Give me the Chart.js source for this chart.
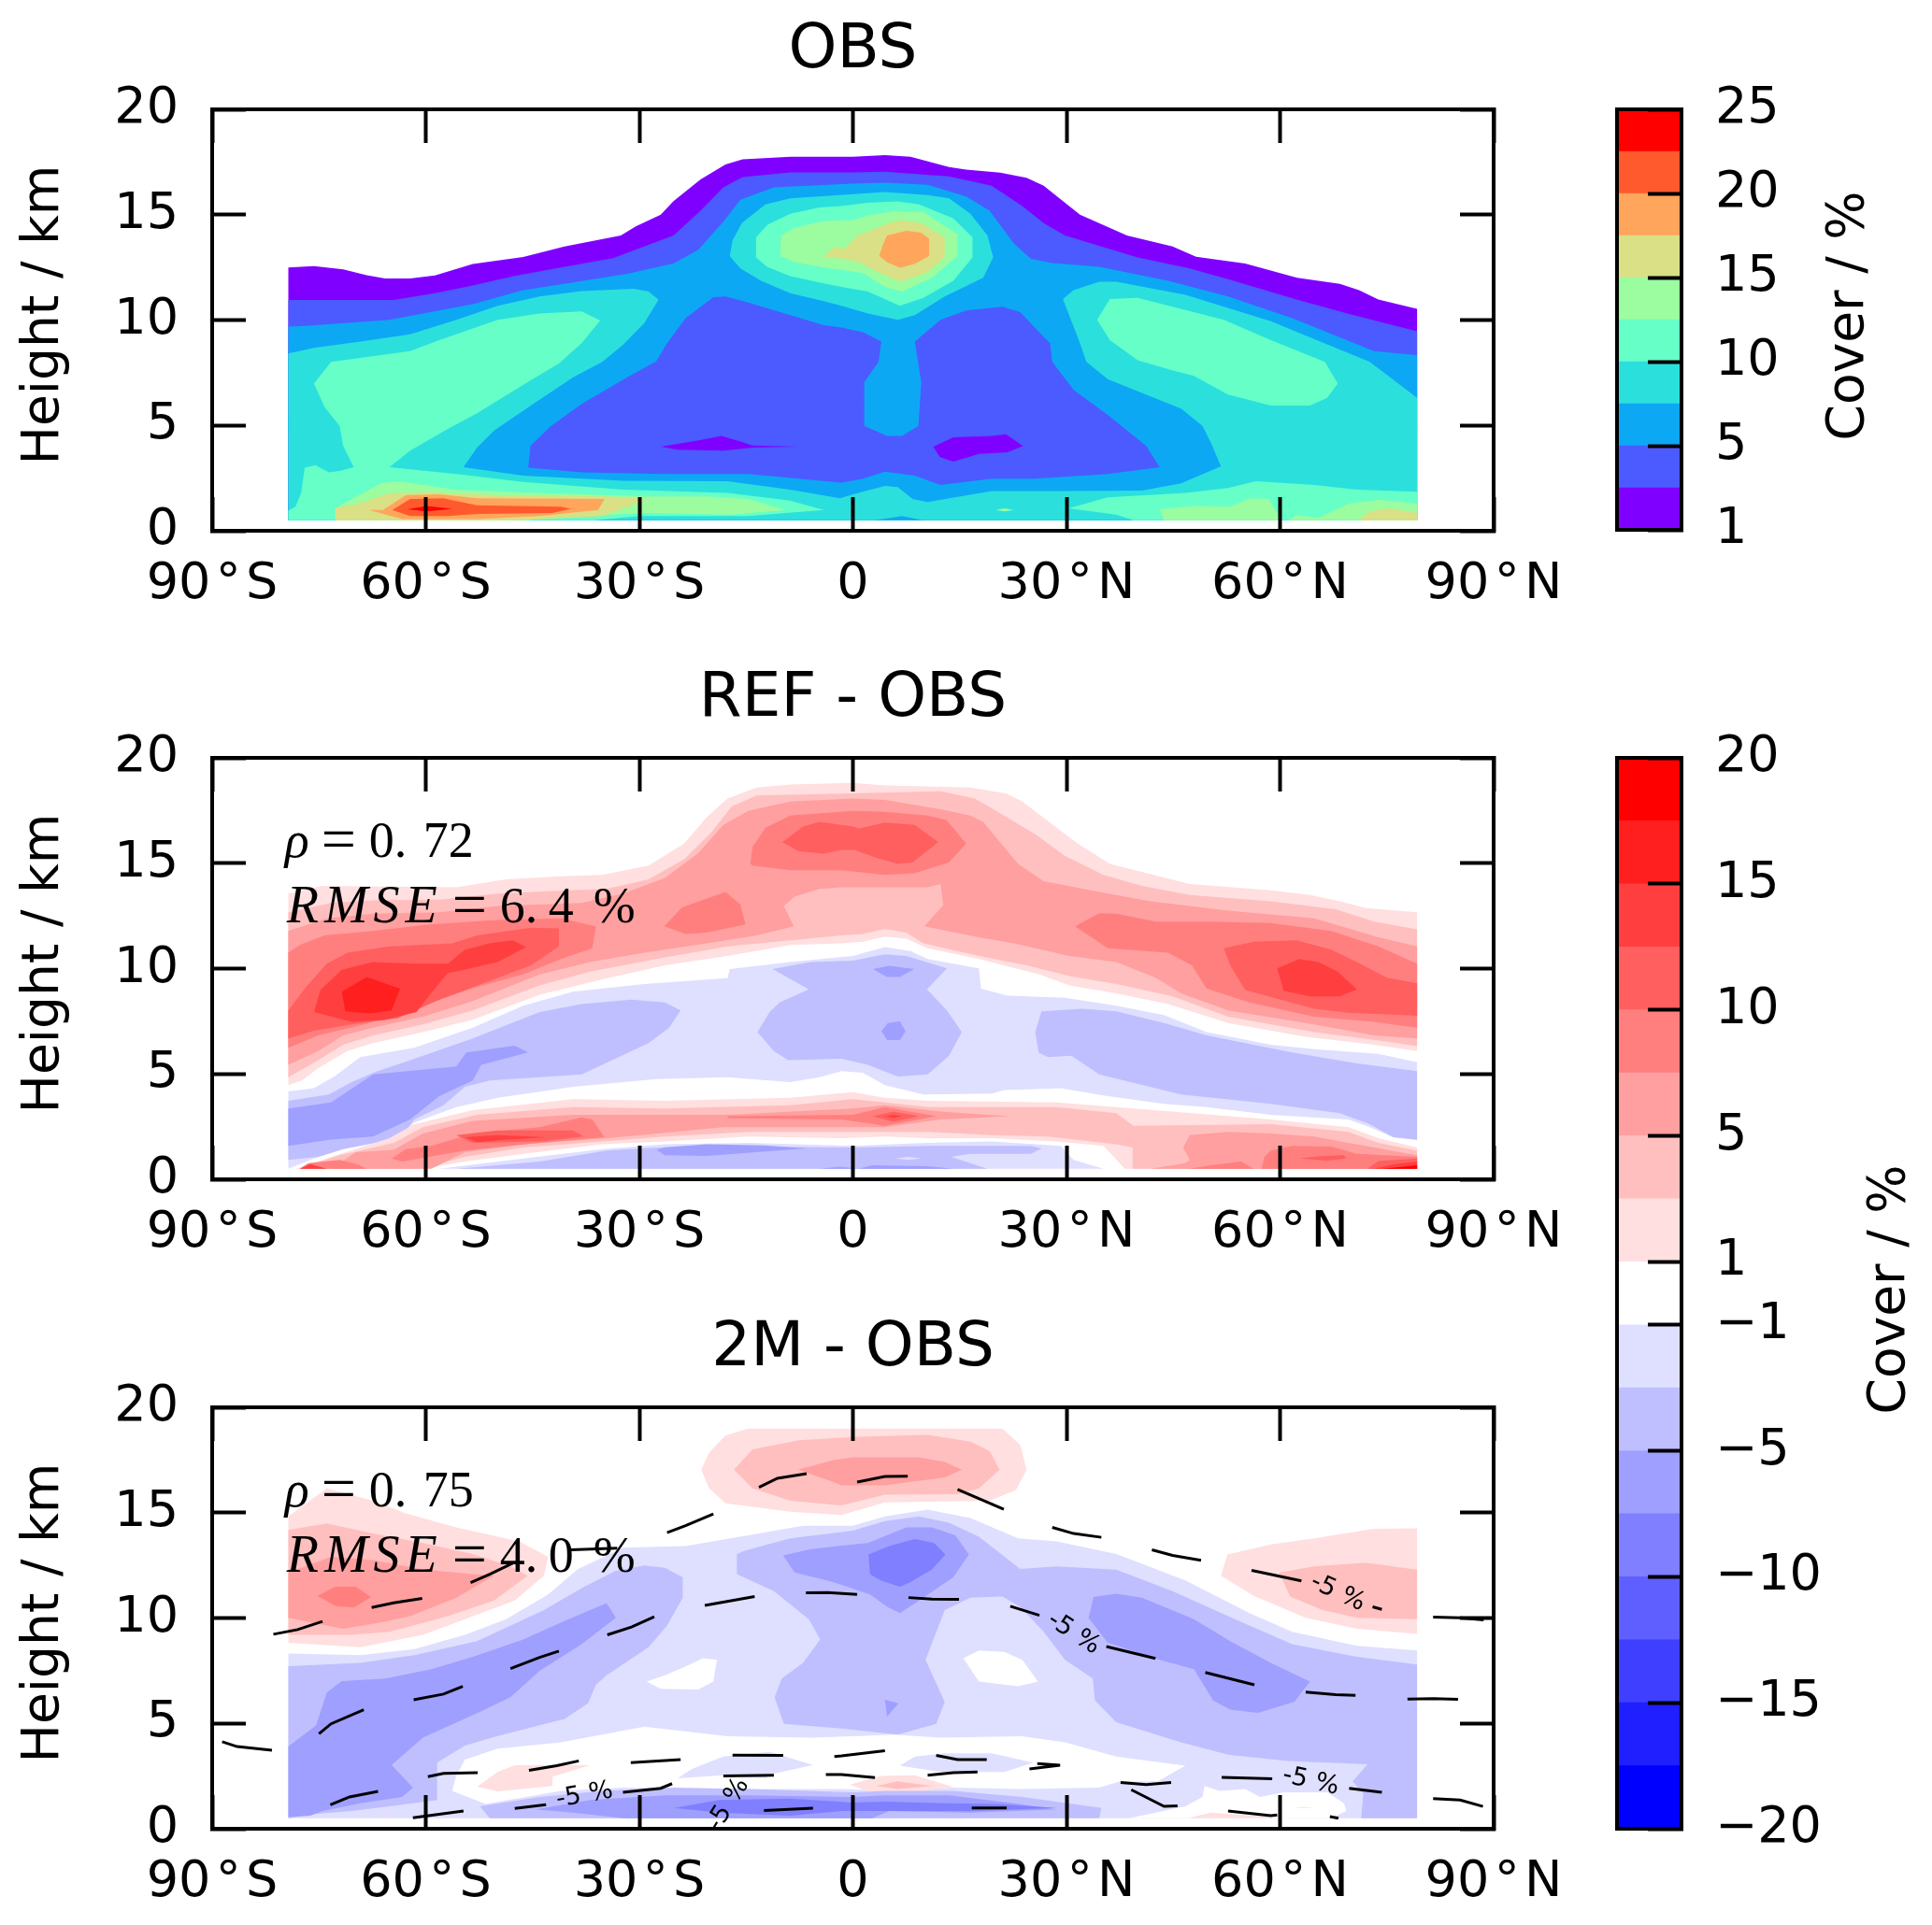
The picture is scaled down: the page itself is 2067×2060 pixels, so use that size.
<!DOCTYPE html>
<html>
<head>
<meta charset="utf-8">
<script src="https://cdn.jsdelivr.net/npm/chart.js@4/dist/chart.umd.js"></script>
<style>
  body { margin: 0; background: #fff; }
  canvas { position: absolute; }
</style>
</head>
<body>
<canvas id="panelObs" width="1698" height="658" style="left:0;top:0"></canvas>
<canvas id="panelRef" width="1698" height="658" style="left:0;top:694px"></canvas>
<canvas id="panel2m" width="1698" height="658" style="left:0;top:1389px"></canvas>
<canvas id="barObs" width="367" height="560" style="left:1700px;top:47px"></canvas>
<canvas id="barDiff" width="367" height="1256" style="left:1700px;top:741px"></canvas>
<script>
// tick labels
const latTicks = [-90, -60, -30, 0, 30, 60, 90];
const latLabels = ['90\u200a°\u200aS', '60\u200a°\u200aS', '30\u200a°\u200aS', '0', '30\u200a°\u200aN', '60\u200a°\u200aN', '90\u200a°\u200aN'];

// colour bars
const obsBarColors = ['#8000ff', '#4b5bff', '#0da8f4', '#2be0dc', '#66ffc8', '#9cfca0', '#d9e085', '#ffa55c', '#ff5a2e', '#ff0000'];
const obsBarTicks = [0, 2, 4, 6, 8, 10];
const obsBarLabels = ['1', '5', '10', '15', '20', '25'];
const diffBarColors = ['#0000ff', '#1f1fff', '#3f3fff', '#5f5fff', '#7f7fff', '#9f9fff', '#bfbfff', '#dfdfff', '#ffffff',
  '#ffdfdf', '#ffbfbf', '#ff9f9f', '#ff7f7f', '#ff5f5f', '#ff3f3f', '#ff1f1f', '#ff0000'];
const diffBarTicks = [0, 2, 4, 6, 8, 9, 11, 13, 15, 17];
const diffBarLabels = ['\u221220', '\u221215', '\u221210', '\u22125', '\u22121', '1', '5', '10', '15', '20'];

// OBS contours, flat lat,height pairs
const obsPurple = [-79.3,12.5,-75.7,12.56,-71.6,12.41,-68.3,12.13,-65.7,11.97,-62.2,11.97,-58.7,12.12,-53.4,12.66,-46.3,12.99,-40.5,13.49,-32.6,14.01,-30.5,14.45,-27,15,-25.2,15.64,-21.4,16.67,-17.9,17.38,-15.5,17.63,-8.8,17.75,0,17.75,4.5,17.83,8.1,17.75,13.5,17.26,15.9,17.14,20.7,17,24.4,16.75,26.8,16.38,31.9,15,38.5,14.01,44.9,13.49,48.2,13,55.1,12.68,62.4,12.01,68.4,11.72,71.1,11.42,73.8,10.98,79.25,10.53,79.25,0.5,-79.3,0.5];
const obsBlue = [-79.3,10.95,-64.5,10.95,-58.7,11.27,-53.4,11.64,-47.5,12.09,-40.5,12.53,-33.7,12.94,-25.2,14.01,-21.4,15.19,-18.2,16.3,-15.5,16.79,-8.8,17.01,0,17.01,4.5,17.04,13.5,16.82,19.5,16.38,23.8,15.41,26.8,14.6,29.8,14.01,40,12.97,47.3,12.45,52.7,11.94,62.3,10.98,70.2,10.24,79.25,9.47,79.25,0.5,-79.3,0.5];
const obsSky = [-79.3,9.69,-76.8,9.72,-65.1,10.01,-53.4,10.75,-46.3,11.42,-39.3,11.79,-31.7,12.19,-25.2,12.68,-21.7,13.34,-18.2,14.67,-15.8,15.71,-11.1,16.3,0,16.48,4.5,16.52,10.5,16.42,15.9,15.86,19.2,15.19,22.6,13.64,25,12.9,28,12.7,34.6,12.53,44.3,11.86,52.7,11.12,61.7,10.09,73.2,8.53,79.25,8.34,79.25,0.5,-79.3,0.5];
const obsCyanMain = [-79.3,8.42,-75.7,8.68,-69.2,8.98,-62.2,9.32,-55.7,10.01,-49.9,10.68,-44,11.12,-38.1,11.38,-30.8,11.49,-28.7,11.35,-27.3,10.97,-29.3,9.86,-32.3,8.83,-35.2,8.02,-39.3,7.28,-45.2,5.95,-50.4,4.76,-52.8,3.95,-54.7,3.02,-46.3,2.62,-32.3,2.37,-17.6,2.35,-8.8,1.95,-1.8,1.54,0,1.73,4.5,2.13,6.3,2.07,8.4,1.51,10.5,1.36,19.5,1.88,29.8,1.88,40.6,1.91,46.1,2.25,51.7,3.06,50.3,4.17,49.1,4.98,46.1,5.8,40.6,6.54,35.8,7.2,32.8,8.02,31.9,8.9,29.5,11,31,11.42,34.6,11.82,37,11.82,46.7,11.2,58.7,9.94,72.6,8.02,79.25,6.31,79.25,0.5,-79.3,0.5];
const obsNotch = [-79.3,5.43,-78.8,5.06,-79.3,4.69];
const obsCyanTop = [-17.3,13.04,-16.9,13.78,-15.6,14.6,-12.3,15.49,-8.8,15.78,1.1,16,4.5,16.07,10.5,15.93,13.5,15.78,16.5,15.04,18.9,14.01,19.7,12.97,18.3,12.01,12.9,11.12,8.7,10.23,6.3,10.01,2.1,10.31,-1.6,10.68,-4.1,10.9,-8.8,11.27,-12.9,11.86,-15.8,12.45];
const obsBlueInner = [-1.6,9.64,1.4,9.42,4,8.98,3.6,8.02,1.6,7.05,1.6,4.98,4.8,4.5,6.9,4.5,9.2,4.98,9.6,7.05,8.7,8.98,12.3,10.01,15.9,10.46,21,10.63,23.5,10.38,26.8,9.2,27.7,8.9,28,8.02,31,6.68,35.8,5.5,41.2,4.02,43.1,3.02,35.8,2.69,25.6,2.47,19.5,2.47,12.3,2.17,8.7,2.62,4.5,2.8,1.4,2.47,-1.6,2.28,-14.7,2.69,-26.4,2.69,-38.1,2.77,-45.6,2.99,-45.3,4.02,-42.5,4.95,-38.1,6.02,-31.7,7.28,-27.6,8.05,-26.1,8.9,-23.5,10.09,-19.6,11.09,-17.9,11.12,-14.7,10.83,-8.8,10.23,-4.1,9.76];
const obsSpotA = [-27,3.99,-21.1,4.32,-18.5,4.5,-15.8,4.24,-14.1,4.05,-7.7,3.99,-14.1,3.95,-18.2,3.8,-24.6,3.85];
const obsSpotB = [11.3,3.99,14.1,4.44,19.5,4.5,21.5,4.58,23.9,4.02,21.7,3.73,17.7,3.65,14.1,3.28,12.2,3.5];
const obsGreenLeft = [-73.3,8.02,-75.7,6.98,-74.2,5.87,-72.1,4.98,-71.6,4.02,-70.1,3.02,-72.1,2.84,-73.6,2.77,-75.5,3.11,-77,2.99,-77.5,1.8,-78.3,1.14,-79.3,0.95,-79.3,0.5,-36.4,0.5,-29.9,0.7,-14.7,0.7,-4.1,0.99,-8.8,1.43,-17.6,1.8,-32.3,1.95,-46.3,2.32,-55.7,2.69,-65.1,3.02,-62.2,3.8,-56.9,4.83,-52.8,5.58,-45.7,7.05,-41.3,7.94,-38.1,8.9,-35.5,9.98,-38.1,10.41,-44,10.31,-49.9,10.01,-58.1,9.05,-62.2,8.53];
const obsGreenRight = [36.1,11,34.3,10.01,36.1,9.05,40,8.09,44.6,7.64,47.9,7.35,52.7,6.46,58.7,5.94,64.2,5.94,66.6,6.31,68.1,6.98,66.3,8.02,58.7,9.05,52.1,10.01,40,11.05];
const obsGreenLow = [30.3,1.06,35.8,1.58,46.7,1.8,52.7,2.03,56.6,2.35,64.8,2.17,70.8,1.95,79.25,1.85,79.25,0.5,39.4,0.5,37,0.77];
const obsGreenTop = [-13.6,13.93,-12,14.52,-8.8,15.04,-4.7,15.34,-1.6,15.41,2.1,15.56,6.3,15.63,9.3,15.49,14.1,14.82,16.8,13.93,16.8,12.97,14.1,11.86,9.9,11.05,6.6,10.68,2.1,11.35,-1.6,11.57,-4.1,11.74,-8.8,12.08,-12,12.52,-13.6,12.97];
const obsLimeTop = [-10.1,14.01,-8.2,14.38,-4.1,14.7,0,14.75,2.1,14.97,6.3,15.19,9.9,15.12,14.7,14.08,14.7,13.04,11.1,12.01,6.9,11.34,4.5,11.57,1.4,12.23,-1.6,12.38,-4.1,12.5,-8.2,12.75,-10.2,13.04];
const obsYellowTop = [-4.1,13,-2.6,13.46,-1.2,13.37,0.6,14,4.5,14.52,6.6,14.75,9.6,14.6,12.9,13.93,12.9,12.97,10.2,12.23,6.6,11.83,3.9,12.23,0.8,12.75,-1.6,12.93];
const obsOrangeTop = [4.8,14.01,7.5,14.23,9.6,14.15,10.7,13.86,10.7,13.04,8.7,12.67,6.6,12.48,4.8,12.75,3.7,13.04,4.2,13.56];
const obsLimeLow = [-72.7,0.5,-72.7,1.06,-70.4,1.51,-66.3,2.25,-63.9,2.35,-55.7,1.95,-44,1.8,-29.3,1.63,-20.5,1.63,-14.7,1.51,-9.4,0.99,-17,0.77,-29.9,0.84,-44,0.55,-45.7,0.5];
const obsYellowLow = [-72.7,0.5,-72.7,1.09,-69.5,1.29,-65.1,1.77,-59.8,1.83,-49.9,1.69,-34.6,1.63,-28.8,1.51,-35.2,0.7,-44,0.55,-47.5,0.5];
const obsOrangeLow = [-68,0.99,-66,0.99,-62.8,1.69,-58.1,1.73,-52.8,1.54,-34.9,1.51,-35.8,0.99,-44,0.7,-52.8,0.55,-63.3,0.55];
const obsScarletLow = [-64.7,0.99,-62.2,1.51,-57.5,1.54,-52.8,1.21,-41,1.14,-39.6,1.04,-42.2,0.84,-52.8,0.8,-56.9,0.7,-62.2,0.7];
const obsRedLow = [-62.6,1.02,-59.8,1.18,-56.3,1.04,-59.8,0.92];
const obsLimeRightA = [43.7,0.5,43.1,1.02,47.9,1.17,53,1.14,55.7,1.54,58.4,1.51,60.2,0.5];
const obsLimeRightB = [61.1,0.5,62.3,0.74,65.4,0.62,69.6,1.29,73.8,1.48,79.25,1.29,79.25,0.5];
const obsYellowRight = [71.1,0.5,72.6,0.92,75.3,1.06,79.25,0.84,79.25,0.5];
const obsSkySpot = [3,0.5,6.9,0.7,9.9,0.5];
const obsGreenSpot = [20.1,0.99,21.3,1.06,22.6,0.99,21.3,0.92];

// REF - OBS contours
const refP1 = [-79.3,13.56,-74.5,13.93,-55.7,13.86,-48.7,14.23,-41,14.38,-35.2,14.45,-28.7,14.89,-23.7,15.93,-20.5,17.19,-17.6,18.07,-13.5,18.59,-8.8,18.74,0,18.81,4.5,18.69,16.5,18.59,21.6,18.3,23.8,17.93,31.3,16,36.1,14.97,47.3,14.01,58.7,13.71,64.2,13.49,68.4,13.19,72,12.87,79.25,12.67,79.25,6.09,73.2,6.39,63.6,6.76,52.7,7.42,44.3,8.31,37,8.83,30.4,9.2,26.2,9.72,17.7,10.46,10.5,10.97,7.5,11.42,4.5,11.52,1.4,11.27,-1.6,11.2,-8.8,11.12,-17.6,10.6,-26.4,10.16,-35.2,9.49,-44,8.76,-53.4,7.57,-60.4,6.98,-67.4,6.46,-71,6.09,-75.1,5.28,-77.4,4.69,-79.3,4.47];
const refP2 = [-79.3,12.67,-73.3,13.12,-67.4,13.24,-58.1,13.27,-49.9,13.56,-42.2,13.68,-34.6,13.78,-28.7,14.23,-23.7,15.19,-19.9,16.45,-17,17.7,-13.5,18.22,0,18.32,12.3,18.41,17.1,18.07,19.8,17.55,25.6,16.37,29.8,15.34,35.2,14.45,40.6,13.93,47.3,13.49,58.7,13.19,67.8,12.82,73.2,12.23,79.25,11.86,79.25,6.32,75.6,6.51,64.8,6.98,52.7,7.72,44.9,8.68,37,9.27,30.4,9.64,24.4,10.16,17.7,10.6,9.9,11.2,7.5,11.71,4.5,11.89,1.4,11.64,-1.6,11.57,-17.6,11.05,-26.4,10.53,-36.9,9.86,-44,9.2,-53.4,8.02,-60.4,7.35,-67.4,6.83,-71.6,6.39,-75.1,5.65,-79.3,4.84];
const refP3 = [-79.3,11.79,-73.9,12.38,-67.4,12.6,-58.1,12.67,-49.9,12.97,-38.1,13.12,-32.3,13.56,-26.4,14.3,-21.7,15.49,-18.2,16.82,-14.7,17.48,-8.8,17.93,0,18.07,4.5,18,12.3,17.56,16.5,17.26,18.3,16.96,21,15.85,23.2,14.97,26.8,14.15,34.6,13.64,41.8,13.19,52.7,12.75,64.8,12.38,73.8,11.49,79.25,11.05,79.25,6.69,73.2,6.83,64.8,7.35,52.7,8.02,46.1,8.83,42.5,9.57,37,10.31,30.4,10.6,22.6,11.2,17.7,11.49,10,12.01,12.7,13,12.3,14.01,10.5,13.86,-1.6,13.86,-4.7,13.78,-8.2,13.41,-9.7,12.97,-8.3,12.01,-13.5,11.57,-20.5,11.2,-29.3,10.75,-36.9,10.31,-44,9.72,-53.4,8.46,-60.4,7.72,-67.4,7.2,-71.6,6.83,-75.1,6.09,-79.3,5.43];
const refP4Left = [-79.3,10.75,-77.7,11.12,-74.2,11.57,-67.4,11.79,-59.8,12.08,-49.9,12.31,-41,12.38,-36.1,12.01,-36.6,10.97,-41,10.46,-46.3,9.72,-52.8,9.13,-60.4,8.24,-68.6,7.35,-75.1,6.83,-79.3,6.24];
const refP4Isle = [-26.5,12.01,-24,12.9,-17.9,13.64,-15.8,13.05,-15.1,12.09,-20.5,11.71,-23.5,11.64];
const refP4Mid = [-14.4,14.97,-14.1,15.78,-12.3,16.67,-8.8,17.26,0,17.48,4.5,17.44,10.5,17.26,13.2,17.04,15.9,15.93,13.5,15.04,8.7,14.52,4.5,14.45,-1.6,14.67,-8.8,14.67,-14.1,14.89];
const refP5Mid = [-9.9,16,-7,16.74,-4.7,16.96,0,16.74,0.8,16.64,4.5,16.93,8.7,16.82,12,16,8.4,15.04,6.3,14.97,3.3,15.26,0.2,15.63,-1.6,15.63,-4.1,15.46,-7.6,15.56];
const refP4Right = [31.2,12.01,34.6,12.63,37,12.6,42.5,12.23,49.7,12.23,58.7,12.16,67.2,11.79,73.8,11.05,79.25,10.23,79.25,7.2,72.6,7.5,64.8,7.72,55.7,8.39,49.7,9.05,47.6,10.16,44.3,10.75,35.8,10.97];
const refP5Right = [52.1,10.97,56.3,11.27,62.3,11.34,67.2,10.9,70.8,10.31,75,9.57,79.25,9.3,79.25,7.76,69.6,7.91,64.8,8.09,55.1,8.98,53,10.16];
const refP6Right = [59.6,10.01,62.7,10.46,65.4,10.31,68.1,9.86,70.8,9.01,68.4,8.68,64.2,8.68,60.5,8.95];
const refP5Left = [-79.3,8.02,-76.8,9.13,-73.9,10.23,-71,10.75,-65.1,11.05,-56.3,11.2,-52.8,11.57,-45.2,11.94,-41.3,11.91,-41.3,11.05,-45.2,10.16,-52.2,9.27,-58.1,8.53,-63.9,7.65,-70.4,7.35,-75.7,7.05,-79.3,6.69];
const refP6Left = [-75.7,7.94,-74.8,8.98,-71.8,9.94,-67.4,10.31,-61.6,10.23,-56.9,10.23,-54.5,10.9,-51,11.2,-47.8,11.34,-45.9,11.02,-49.9,10.31,-55.7,9.86,-56.9,9.79,-58.9,8.98,-61.3,7.94,-65.7,7.57,-70.4,7.47];
const refP7Left = [-71.8,8.9,-68.3,9.6,-63.6,9.05,-64.8,8.02,-67.7,7.87,-71.3,7.97];
const refB1 = [-79.3,4.17,-75.7,4.32,-72.7,4.91,-69.2,5.8,-61.6,6.24,-53.4,7.2,-46.3,8.24,-39.3,8.9,-29.3,9.27,-17.6,9.54,-17.3,9.98,-8.8,10.31,0,10.6,4.5,11.02,8.1,10.83,10.5,10.46,17.7,10.01,18,9.05,21.7,8.71,29.8,8.61,37,8.24,43.7,7.79,49.7,6.98,58.7,6.39,64.8,6.17,73.8,5.95,79.25,5.55,79.25,1.85,75.9,2,72.6,2.47,69.6,2.84,58.7,3.06,49.7,3.43,43.7,3.58,35.8,3.95,29.2,4.32,21.3,4.24,19.5,4.07,9.9,4.02,4.5,4.47,1.4,5.06,-1.6,5.13,-4.7,4.84,-8.8,4.61,-17.6,4.84,-27.6,4.76,-39.3,4.39,-49.9,3.87,-55.7,3.43,-61.6,2.69,-63.3,2.17,-71.6,1.43,-75.7,0.99,-79.3,0.5];
const refB2Left = [-79.3,3.73,-73.6,4.02,-70.4,4.61,-67.4,5.06,-61.6,5.72,-53.4,6.69,-44,7.94,-38.1,8.31,-31.1,8.53,-26.4,8.39,-24.2,8.02,-25.8,7.2,-28.7,6.46,-33.4,5.72,-38.1,4.98,-51,4.69,-54.5,4.39,-57.5,3.51,-61.6,2.84,-63.6,1.95,-71.6,1.43,-75.1,1.06,-79.3,0.92];
const refB3Left = [-79.3,3.36,-73.3,3.65,-67.4,4.98,-55.7,5.35,-54.3,6.02,-47.5,6.34,-45.6,6.02,-52.2,5.43,-53.4,4.69,-58.1,3.95,-62.2,2.84,-67.4,2.03,-73.3,1.88,-79.3,1.58];
const refB2Mid = [-11.3,9.98,-5.9,10.31,0,10.38,4.5,10.68,7.5,10.6,13.2,10.01,10.4,9.01,13.2,8.02,15.3,6.98,13.5,5.87,10.5,4.98,6.3,4.88,2.1,5.43,-1.6,5.72,-9.1,5.65,-11.1,6.09,-13.4,6.98,-11.7,7.94,-10.3,8.39,-6.2,9.01];
const refB3MidA = [2.8,9.98,5.1,10.13,8.6,9.98,6.6,9.6,4.8,9.6];
const refB3MidB = [4,7.03,4.9,7.42,6.6,7.5,7.4,7.03,6.6,6.61,4.8,6.61];
const refB2Right = [26.5,7.97,32.2,8.09,37,7.97,43.7,7.42,49.7,6.83,61.7,6.02,70.8,5.5,79.25,5.13,79.25,1.88,75.9,2,72.6,2.62,68.4,3.14,58.7,3.58,46.1,4.02,34.6,4.98,30.7,5.87,27.4,5.8,26.1,6.02,25.6,6.98];
const refB1Low = [-58.1,0.5,-46.3,0.99,-35.2,1.43,-26.4,1.66,-14.7,1.73,0,1.58,10.5,1.73,19.5,1.8,29.2,1.58,31,0.92,35.2,0.5];
const refB2Low = [-55.7,0.5,-44,0.84,-34.6,1.36,-23.5,1.58,0,1.51,10.5,1.58,25,1.58,26.5,1.46,25,1.21,16.5,1.21,13.8,1.06,18.9,0.5];
const refB1Spot = [6,0.99,7.8,1.06,9.6,0.99,7.8,0.92];
const refB3LowA = [-27.6,1.4,-26.4,1.51,-20.5,1.66,-12.3,1.61,-6.5,1.46,-12.3,1.32,-20.5,1.11,-26.4,1.14];
const refB3LowB = [-4.7,0.5,-1.8,0.6,0.8,0.5,2.7,0.67,10.5,0.62,14.1,0.5];
const refTongueP1 = [-78.3,0.5,-73.3,1.06,-65.1,1.95,-61.6,2.62,-53.4,3.28,-39.3,3.8,-26.4,3.73,-8.8,3.87,0,4.13,4.5,3.87,10.5,3.73,28.6,3.65,37,3.43,58.7,2.84,69.6,2.47,73.8,1.95,79.25,1.51,79.25,0.5,38.2,0.5,35.2,1.58,28.6,1.8,19.5,1.95,10.5,1.95,4.5,2.03,-1.6,1.95,-14.7,2.03,-26.4,1.8,-35.2,1.66,-46.3,1.21,-54.5,0.84,-60.4,0.5];
const refTongueP2 = [-77.4,0.5,-76.8,0.62,-72.1,1.14,-64.5,1.73,-60.4,2.47,-52.8,3.06,-39.3,3.43,-26.4,3.36,-8.8,3.51,0,3.8,4.5,3.65,10.5,3.43,28.6,3.43,37,3.14,39.4,2.54,58.7,2.62,69.6,2.25,73.8,1.73,79.25,1.36,79.25,0.5,39.3,0.5,39.3,1.51,37,1.66,27.4,2.03,19.5,2.1,10.5,2.25,4.5,2.25,-1.6,2.25,-14.7,2.25,-26.4,2.03,-35.2,1.8,-46.3,1.51,-54.5,1.06,-61,0.5];
const refTongueP3 = [-73.3,0.5,-69.8,1.29,-64.5,1.4,-60.4,2.17,-53.4,2.77,-39.3,3.06,-17.6,3.06,0,3.36,4.5,3.51,12.3,3.21,21.9,2.99,12.3,2.84,4.5,2.47,-1.6,2.47,-18.2,2.47,-29.9,2.1,-34.6,1.95,-46.3,1.66,-54.5,1.29,-59.2,0.5];
const refP4Low = [-64.8,0.99,-62.8,1.43,-59.2,1.58,-53.4,2.17,-44,2.47,-38.1,2.94,-36.6,2.84,-34.9,2,-44,1.73,-54.5,1.36,-63.3,0.84];
const refP5Low = [-55.7,2.1,-49.9,2.32,-39.3,2.32,-37.8,2.03,-44,1.8,-53.4,1.73];
const refP6Low = [-54.5,2,-49.9,2.1,-43.1,2,-49.9,1.85,-52.8,1.76];
const refP4Base = [-77.7,0.5,-76.5,0.77,-72.1,0.92,-69.5,0.7,-68.3,0.5];
const refP6Base = [-77.7,0.5,-76.2,0.72,-73.9,0.5];
const refP4Eq = [-17.6,2.99,0,3.06,4.5,3.43,11.7,2.99,4.5,2.54,-1.6,2.84,-17.6,2.91];
const refP5Eq = [2.7,2.99,5.7,3.21,9.3,2.99,5.7,2.74];
const refP6Eq = [4.5,2.99,5.7,3.06,6.9,2.99,5.7,2.91];
const refP3Low = [46.4,1.51,47.3,2.1,52.7,2.25,58.7,2.17,64.8,2.03,69.6,1.73,79.25,1.14,79.25,0.5,41.8,0.5,46.7,0.77,47.3,0.92];
const refP4LowR = [57.4,0.5,57.8,1.06,58.7,1.36,61.7,1.58,67.2,1.55,70.8,1.21,79.25,1.06,79.25,0.5];
const refP4LowS = [47.3,0.5,50.3,0.67,54.5,0.84,56.3,0.5];
const refP5LowR = [62.7,0.99,66,1.11,69,1.14,69.3,0.99,66.6,0.89];
const refP5Corner = [72.3,0.5,73.8,0.87,79.25,0.99,79.25,0.5];
const refP6Corner = [73.2,0.5,76.2,0.72,79.25,0.84,79.25,0.5];
const refP8Corner = [74.4,0.5,79.25,0.67,79.25,0.5];

// 2M - OBS contours
const twoP1Top = [-21.3,17.04,-20.2,17.85,-17.9,18.66,-14.7,18.99,0,18.99,21,18.99,23.5,18.22,24.4,17.04,22.9,16.08,19.2,15.56,4.5,15.49,-1.6,14.89,-8.8,15.04,-17.9,15.44,-20.2,16.15];
const twoP2Top = [-16.7,17.04,-14.1,18,-7.6,18.44,0,18.59,10.5,18.69,16.5,18.37,19.2,17.93,20.6,17.04,17.7,16.15,14.7,15.88,4.5,15.85,-1.6,15.34,-8.8,15.56,-14.1,16.15];
const twoP3Top = [-7.7,17.04,-2.9,17.48,0,17.63,9.3,17.63,12.9,17.41,15.3,17.04,12.9,16.67,4.5,16.3,-1.6,16.3,-2.9,16.48];
const twoP1Left = [-79.3,14.82,-73.9,16.15,-67.4,15.56,-62.8,14.97,-55.7,14.3,-46.9,13.64,-42.8,12.9,-43.4,12.01,-47.5,10.83,-55.7,9.79,-60.4,9.2,-69.2,8.61,-79.3,8.83];
const twoP2Left = [-79.3,14.18,-73.9,14.49,-67.4,14.01,-60.4,13.56,-53.4,13.04,-48.1,12.45,-45.7,12.01,-50.4,10.83,-56.9,10.09,-65.1,9.35,-70.4,9.2,-79.3,9.2];
const twoP3Left = [-79.3,12.16,-73.3,12.9,-67.4,12.75,-60.4,12.31,-53.4,12.08,-50.4,12.01,-55.7,10.97,-62.2,10.09,-66.3,9.79,-71.6,9.49,-79.3,10.01];
const twoP4Left = [-75.2,11.05,-72.7,11.49,-69.8,11.49,-67.7,11,-70.1,10.5,-72.7,10.56];
const twoP1Right = [51.7,12.01,52.6,13.02,58.7,13.49,64.8,13.78,73.2,14.23,79.25,14.26,79.25,9.25,70.8,9.49,63.6,10.01,56.3,11.05];
const twoP2Right = [59.9,12.16,64.8,12.45,72,12.63,79.25,12.3,79.25,9.94,70.8,10.01,66,10.38,61.4,11.02];
const twoB1 = [-79.3,8.31,-69.2,8.24,-61.6,8.53,-54.5,9.2,-48.7,9.94,-42.8,11.12,-38.7,12.31,-32.3,13.34,-23.5,13.41,-14.7,13.93,-7,14.38,0,14.38,4.5,14.82,10.5,15.14,16.5,14.74,23.2,13.78,28.6,13.64,37,13.04,46.7,11.79,55.7,10.23,61.7,9.35,70.8,8.68,79.25,8.46,79.25,0.5,-79.3,0.5];
const twoB2Left = [-79.3,7.72,-69.2,7.87,-61.6,8.24,-52.8,8.9,-43.4,10.38,-38.1,11.42,-33.4,12.23,-29.3,12.5,-26.4,12.38,-23.9,11.93,-23.9,10.97,-26.1,9.64,-28.7,8.61,-34.6,7.28,-36.1,6.83,-37.2,5.95,-40.5,5.21,-44,4.91,-49.9,4.4,-54.5,3.95,-58.4,3.14,-58.4,1.36,-63.3,1.14,-70.4,0.84,-75.7,0.7,-79.3,0.5];
const twoB3Left = [-79.3,3.9,-75.4,4.91,-73.9,6.46,-71.8,7.01,-65.7,7.13,-59.2,7.57,-53.4,8.16,-46.3,8.98,-41,9.79,-34.6,10.71,-33.3,10.01,-38.1,8.76,-44,7.5,-48.1,6.24,-52.2,5.58,-60.4,4.32,-64.8,3.03,-61.8,1.95,-63.3,1.51,-69.2,1.21,-74.5,0.84,-76.2,0.62,-79.3,0.55];
const twoB2Mid = [-16.3,13.04,-15.2,13.19,-8.8,13.78,0,14.15,4.5,14.6,9.3,14.82,13.5,14.52,17.7,13.86,23.5,12.33,28.6,12.45,37,12.3,44.9,11.27,52.7,10.09,61.7,8.76,70.8,8.16,79.25,7.79,79.25,0.5,71.4,0.5,71.7,1.66,70.2,2.25,72.3,3.06,61.1,3.21,52.7,3.51,46.1,4.1,37,5.06,34,6.09,33.7,7.13,29.8,8.02,26.8,9.35,23.5,10.53,21,11.02,16.5,10.97,12.9,10.38,10.2,8.02,12.9,6.02,11.7,4.98,6.3,4.47,-1.6,4.76,-9.7,4.98,-11,6.24,-10,7.13,-7,7.87,-4.6,8.98,-6.2,9.94,-11.1,11.27,-16.3,12.08];
const twoB3Mid = [-9.8,12.97,-5.9,13.27,0,13.49,2.1,13.56,7.5,14.3,11.1,14.3,14.4,13.93,16.3,13.02,14.1,11.94,9.9,10.97,6.6,10.23,4.8,10.53,2.4,11.12,-1.6,11.57,-2.9,11.72,-8.2,12.16];
const twoB4Mid = [2.2,13.02,5.1,13.41,8.7,13.75,11.4,13.56,13,13.02,11.1,12.31,8.1,11.71,6.6,11.49,3.9,11.79,2.4,12.08];
const twoB3Small = [4.5,6.12,6.4,5.95,4.8,5.32];
const twoB3Right = [33.8,11,37,11.15,40.6,10.97,47.9,9.94,53,8.9,58.7,7.87,64.2,6.98,62,6.02,56.9,5.5,53,5.65,50.6,6.09,47.9,7.57,43.1,8.02,35.8,8.83,33.1,10.01];
const twoGapA = [-29,6.98,-26.4,7.28,-22.9,7.79,-21.1,8.09,-19.1,8.02,-19.6,6.98,-21.7,6.61,-27,6.64];
const twoGapB = [15.5,8.09,17.7,8.46,21.3,8.39,23.8,8.02,26,6.98,23.2,6.76,17.7,6.98];
const twoGapLow = [-54.5,3.28,-49.9,3.8,-41,4.1,-29.3,4.84,-17.6,4.39,-5.9,4.32,0,4.39,5.7,4.47,12.3,4.32,23.8,4.39,29.8,4.1,37,3.43,46.7,2.99,42.8,2.25,37.6,2.25,34.6,1.95,23.8,1.88,14.1,1.95,6.3,1.8,-1.6,1.88,-14.7,1.88,-32.3,1.95,-41,1.8,-51.6,1.18,-56.3,1.8,-55.7,2.54];
const twoB1IsleA = [-24.6,2.4,-22.6,2.84,-18.2,3.43,-11.7,3.65,-5.6,3.03,-11.1,2.62,-12.3,2.4,-18.2,2.54];
const twoB1IsleB = [6.6,2.99,8.7,3.43,12.9,3.58,19.5,3.58,25.3,3.14,21.3,2.69,12.3,2.69];
const twoP1LowA = [-52.8,2,-49.9,2.69,-47.5,3.02,-36.9,3.02,-42.2,2.47,-42.2,2.03,-49.9,1.77];
const twoP1LowB = [-0.4,2.1,3.9,2.51,8.7,2.54,14.1,1.98,9.3,1.77,2.1,1.77];
const twoP2Low = [3.3,2.03,6.3,2.25,11.1,2.03,6.3,1.88];
const twoB2Low = [-52.4,1.06,-44,1.51,-35.2,1.8,-25.2,1.95,-14.7,1.88,0,1.73,4.5,1.8,14.1,1.8,23.8,1.51,34.9,0.99,34.6,0.5,-51,0.5];
const twoB3Low = [-44.6,0.92,-36.9,1.36,-26.4,1.58,-14.7,1.58,0,1.51,4.5,1.58,13.5,1.58,22.6,1.21,28.6,0.92,16.5,0.77,5.1,0.84,2.7,0.5,-32.3,0.5,-39.3,0.77];
const twoB4Low = [-25.1,0.99,-18.8,1.36,-8.8,1.43,0,1.24,4.5,1.29,13.5,1.21,20.1,1.18,28.6,0.99,16.5,0.84,4.5,0.84,-1.6,0.84,-8.8,0.62,-18.8,0.77];
const twoGapRight = [38.8,0.5,46.7,1.06,49.1,1.51,49.4,2.03,51.5,1.8,55.1,1.88,57.2,1.51,60.5,1.73,66.6,1.73,69,1.21,69.3,0.84,67.2,0.5];
const twoP1LowC = [47,0.5,50.3,0.77,58.7,0.55,59.3,0.5];
const twoP1LowD = [62,0.99,63.3,1.04,64.8,0.99];
const twoP1LowE = [-66.8,0.5,-65.7,0.56,-64.2,0.5];

// the -5 % contour of the 2M panel, dash by dash
const twoDashes = [
  [-81.4,9.23,-78,9.45,-74.5,9.84],[-67.6,10.5,-64.5,10.72,-60.5,10.93],[-53.7,11.68,-51,12.08,-47.8,12.6],
  [-39.6,13.24,-33.1,13.31],[-26.1,14.05,-23.5,14.38,-19.6,14.94],[-13.2,16.2,-10.6,16.63,-6.5,16.85],
  [0.6,16.45,4.5,16.72,7.7,16.73],[14.7,16.1,21.2,15.16],[28,14.3,31,14.01,34.9,13.83],[42,13.24,44.9,12.97,48.9,12.74],
  [56,12.26,63,11.76],[73,10.53,74.3,10.41],[81.5,10.04,85.3,10.01,88.6,9.91],
  [-88.6,4.13,-86.5,3.9,-81.6,3.73],[-75,4.51,-73.3,4.98,-68.7,5.65],[-61.7,6.12,-57.5,6.39,-54.8,6.76],
  [-48.1,7.6,-44,8.13,-41.3,8.43],[-34.5,9.2,-31.1,9.57,-27.9,10.06],[-20.8,10.6,-13.8,11.02],
  [-6.6,11.2,-3.5,11.21,0.6,11.12],[7.8,10.97,11.1,10.9,14.9,10.89],[22.1,10.56,26.2,10.13],[35.6,8.65,42.5,8.08],
  [49.5,7.42,56.4,6.83],[63.6,6.49,67.8,6.36,70.6,6.33],[77.9,6.15,81.6,6.18,85,6.14],
  [-59.7,2.47,-57.5,2.63,-52.7,2.66],[-45.5,2.77,-41.6,2.99,-38.5,3.22],[-31.2,3.14,-24.2,3.28],[-16.9,3.49,-9.8,3.48],
  [-2.6,3.43,-1.6,3.46,4.5,3.7],[11.7,3.48,14.7,3.28,18.8,3.28],[24.8,2.84,29.1,3.02,25.9,3.09],
  [-73.4,1.14,-70.7,1.51,-66.7,1.77],[-32.3,1.73,-27,1.92,-25.4,2.14],[-47.5,0.96,-43.1,1.14],[-61.8,0.52,-54.7,0.84],
  [-18.2,2.51,-11.1,2.54],[-3.8,2.57,-1.6,2.57,3.1,2.43],[10.5,2.54,14.1,2.66,17.5,2.69],[37.6,2.2,41.2,2.1,44.7,2.2],
  [51.8,2.44,58.9,2.37],[69.7,1.92,74.3,1.73],[81.5,1.43,85.3,1.36,88.5,1.06],[39.1,1.85,43.7,1.06,45.6,1.09],
  [52.7,0.84,58.7,0.62,59.6,0.65],[67,0.58,68.2,0.5],[-12.5,0.87,-5.6,0.98],[16.7,0.99,21.6,0.99]
];
// contour labels: lat, height, angle in degrees
const twoDashLabels = [[68.1,11.2,25],[31,9.27,33],[64.3,2.25,13],[-37.7,1.58,-10],[-17.5,1.14,-58]];

const [c1, c2, c3, c4, c5, c6, c7, c8, c9, c10] = obsBarColors;
const obsLayers = [[c1,obsPurple],[c2,obsBlue],[c3,obsSky],[c3,obsNotch],[c4,obsCyanMain],[c4,obsCyanTop],[c2,obsBlueInner],[c1,obsSpotA],[c1,obsSpotB],
  [c5,obsGreenLeft],[c5,obsGreenRight],[c5,obsGreenLow],[c5,obsGreenTop],[c6,obsLimeTop],[c7,obsYellowTop],[c8,obsOrangeTop],
  [c6,obsLimeLow],[c7,obsYellowLow],[c8,obsOrangeLow],[c9,obsScarletLow],[c10,obsRedLow],[c6,obsLimeRightA],[c6,obsLimeRightB],[c7,obsYellowRight],[c3,obsSkySpot],[c6,obsGreenSpot]];

const [p8, p7, p6, p5, p4, p3, p2, p1] = diffBarColors.slice(9).reverse();
const [b1, b2, b3, b4] = diffBarColors.slice(4, 8).reverse();
const refLayers = [[p1,refP1],[p2,refP2],[p3,refP3],[p4,refP4Left],[p4,refP4Isle],[p4,refP4Mid],[p5,refP5Mid],[p4,refP4Right],[p5,refP5Right],[p6,refP6Right],
  [p5,refP5Left],[p6,refP6Left],[p7,refP7Left],[b1,refB1],[b2,refB2Left],[b3,refB3Left],[b2,refB2Mid],[b3,refB3MidA],[b3,refB3MidB],[b2,refB2Right],
  [b1,refB1Low],[b2,refB2Low],[b1,refB1Spot],[b3,refB3LowA],[b3,refB3LowB],[p1,refTongueP1],[p2,refTongueP2],[p3,refTongueP3],[p4,refP4Low],[p5,refP5Low],[p6,refP6Low],
  [p4,refP4Base],[p6,refP6Base],[p4,refP4Eq],[p5,refP5Eq],[p6,refP6Eq],[p3,refP3Low],[p4,refP4LowR],[p4,refP4LowS],[p5,refP5LowR],[p5,refP5Corner],[p6,refP6Corner],[p8,refP8Corner]];
const twoLayers = [[p1,twoP1Top],[p2,twoP2Top],[p3,twoP3Top],[p1,twoP1Left],[p2,twoP2Left],[p3,twoP3Left],[p4,twoP4Left],[b1,twoB1],[b2,twoB2Left],[b3,twoB3Left],
  [b2,twoB2Mid],[b3,twoB3Mid],[b4,twoB4Mid],[b3,twoB3Small],[b3,twoB3Right],['#ffffff',twoGapA],['#ffffff',twoGapB],['#ffffff',twoGapLow],[b1,twoB1IsleA],[b1,twoB1IsleB],
  [p1,twoP1LowA],[p1,twoP1LowB],[p2,twoP2Low],[b2,twoB2Low],[b3,twoB3Low],[b4,twoB4Low],['#ffffff',twoGapRight],[p1,twoP1LowC],[p1,twoP1LowD],[p1,twoP1LowE],[p1,twoP1Right],[p2,twoP2Right]];

const FONT = 'DejaVu Sans';
const tickMarks = { display: true, drawOnChartArea: false, drawTicks: true, tickLength: -36, tickWidth: 4, tickColor: '#000', z: 1 };
const frame = { display: true, width: 4, color: '#000', z: 1 };

function toPoints(flat) {
  const pts = [];
  for (let i = 0; i < flat.length; i += 2) pts.push({ x: flat[i], y: flat[i + 1] });
  return pts;
}

// labels may overhang the axis box, no extra room wanted for them
function fixSize(s, w, h) {
  if (w !== null) s.width = w;
  if (h !== null) s.height = h;
  s.paddingLeft = s.paddingRight = s.paddingTop = s.paddingBottom = 0;
}

function contourDatasets(layers) {
  return layers.map(([color, flat], i) => ({
    data: toPoints(flat), fill: 'shape', backgroundColor: color, borderWidth: 0, pointRadius: 0, tension: 0,
    order: 1000 - i
  }));
}

function dashDatasets(dashes) {
  return dashes.map(d => ({
    data: toPoints(d), fill: false, borderColor: '#000', borderWidth: 3, pointRadius: 0, tension: 0, order: 0
  }));
}

// rho / RMSE annotation, typeset in pieces like the mathtext of the original
function statsPlugin(lat, rho, rmse) {
  return {
    id: 'stats',
    afterDatasetsDraw(chart) {
      const { ctx, scales: { x, y } } = chart;
      const x0 = x.getPixelForValue(lat);
      const y1 = y.getPixelForValue(15.3), y2 = y.getPixelForValue(12.2);
      ctx.save();
      ctx.fillStyle = '#000';
      ctx.textAlign = 'left';
      ctx.textBaseline = 'alphabetic';
      const put = (t, dx, yy, italic, size) => {
        ctx.font = (italic ? 'italic ' : '') + (size || 54) + 'px "Liberation Serif"';
        ctx.fillText(t, x0 + dx, yy);
      };
      put('ρ', 0, y1, true);
      put('=', 39, y1 + 3, false, 66);
      put(rho[0], 90, y1);
      put(rho[1], 148, y1);
      ctx.font = 'italic 56px "Liberation Serif"';
      ctx.letterSpacing = '6px';
      ctx.fillText('RMSE', x0 + 2, y2);
      ctx.letterSpacing = '0px';
      put('=', 179, y2 + 3, false, 66);
      put(rmse[0], 230, y2);
      put(rmse[1], 282, y2);
      put('%', 330, y2);
      ctx.restore();
    }
  };
}

const dashLabelPlugin = {
  id: 'dashLabels',
  afterDatasetsDraw(chart) {
    const { ctx, chartArea: a, scales: { x, y } } = chart;
    ctx.save();
    ctx.beginPath();
    ctx.rect(a.left, a.top, a.width, a.height);
    ctx.clip();
    ctx.fillStyle = '#000';
    ctx.font = `27px "${FONT}"`;
    ctx.textAlign = 'center';
    ctx.textBaseline = 'middle';
    twoDashLabels.forEach(([lat, h, deg]) => {
      ctx.save();
      ctx.translate(x.getPixelForValue(lat), y.getPixelForValue(h));
      ctx.rotate(deg * Math.PI / 180);
      ctx.fillText('-5 %', 0, 0);
      ctx.restore();
    });
    ctx.restore();
  }
};

function makePanel(id, title, datasets, plugins) {
  return new Chart(document.getElementById(id), {
    type: 'line',
    data: { datasets },
    plugins: plugins || [],
    options: {
      responsive: false,
      animation: false,
      events: [],
      layout: { padding: { top: 0, right: 100, bottom: 0, left: 0 } },
      plugins: {
        legend: { display: false },
        tooltip: { enabled: false },
        title: {
          display: true, text: title, color: '#000', fullSize: false,
          font: { family: FONT, size: 66, weight: 'normal' },
          padding: { top: 15, bottom: 22.8 }
        }
      },
      scales: {
        x: {
          type: 'linear', min: -90, max: 90, position: 'bottom',
          afterBuildTicks: s => { s.ticks = latTicks.map(value => ({ value })); },
          afterFit: s => fixSize(s, null, 90),
          grid: tickMarks, border: frame,
          ticks: {
            z: 1, color: '#000', font: { family: FONT, size: 54 }, padding: 62, maxRotation: 0, autoSkip: false,
            callback: v => latLabels[latTicks.indexOf(v)]
          }
        },
        y: {
          type: 'linear', min: 0, max: 20, position: 'left',
          afterFit: s => fixSize(s, 227, null),
          grid: tickMarks, border: frame,
          title: { display: true, text: '\u2009Height / km', color: '#000', font: { family: FONT, size: 55 }, padding: { top: 15, bottom: 0 } },
          ticks: { z: 1, color: '#000', font: { family: FONT, size: 54 }, stepSize: 5, padding: 72, labelOffset: 0, autoSkip: false }
        },
        x2: {
          type: 'linear', min: -90, max: 90, position: 'top',
          afterBuildTicks: s => { s.ticks = latTicks.map(value => ({ value })); },
          afterFit: s => fixSize(s, null, 0),
          grid: tickMarks, border: frame, ticks: { display: false }
        },
        y2: {
          type: 'linear', min: 0, max: 20, position: 'right',
          afterFit: s => fixSize(s, 0, null),
          grid: tickMarks, border: frame, ticks: { display: false, stepSize: 5 }
        }
      }
    }
  });
}

function makeBar(id, colors, tickPos, tickLabels, labelX, labelY) {
  const coverLabel = {
    id: 'coverLabel',
    afterDatasetsDraw(chart) {
      const { ctx } = chart;
      ctx.save();
      ctx.translate(labelX, labelY);
      ctx.rotate(-Math.PI / 2);
      ctx.fillStyle = '#000';
      ctx.font = `55px "${FONT}"`;
      ctx.textAlign = 'center';
      ctx.textBaseline = 'middle';
      ctx.fillText('Cover / %', 0, 0);
      ctx.restore();
    }
  };
  return new Chart(document.getElementById(id), {
    type: 'bar',
    data: {
      labels: ['cover'],
      datasets: colors.map((color, i) => ({
        data: [[i, i + 1]], backgroundColor: color, borderWidth: 0,
        barPercentage: 1, categoryPercentage: 1, grouped: false
      }))
    },
    plugins: [coverLabel],
    options: {
      responsive: false,
      animation: false,
      events: [],
      layout: { padding: { top: 70, right: 0, bottom: 40, left: 30 } },
      plugins: { legend: { display: false }, tooltip: { enabled: false } },
      scales: {
        x: {
          position: 'bottom', afterFit: s => fixSize(s, null, 0),
          grid: { display: false }, border: frame, ticks: { display: false }
        },
        x2: {
          type: 'category', labels: ['cover'], position: 'top', afterFit: s => fixSize(s, null, 0),
          grid: { display: false }, border: frame, ticks: { display: false }
        },
        y: {
          type: 'linear', min: 0, max: colors.length, position: 'right',
          afterBuildTicks: s => { s.ticks = tickPos.map(value => ({ value })); },
          afterFit: s => fixSize(s, 268, null),
          grid: tickMarks, border: frame,
          ticks: {
            z: 1, color: '#000', font: { family: FONT, size: 54 }, padding: 72, labelOffset: 0, autoSkip: false,
            callback: v => tickLabels[tickPos.indexOf(v)]
          }
        },
        y2: {
          type: 'linear', min: 0, max: colors.length, position: 'left', afterFit: s => fixSize(s, 0, null),
          grid: { display: false }, border: frame, ticks: { display: false }
        }
      }
    }
  });
}

makePanel('panelObs', 'OBS', contourDatasets(obsLayers));
makePanel('panelRef', 'REF - OBS', contourDatasets(refLayers), [statsPlugin(-79.8, ['0.', '72'], ['6.', '4'])]);
makePanel('panel2m', '2M - OBS', dashDatasets(twoDashes).concat(contourDatasets(twoLayers)),
  [statsPlugin(-79.8, ['0.', '75'], ['4.', '0']), dashLabelPlugin]);
makeBar('barObs', obsBarColors, obsBarTicks, obsBarLabels, 279, 291);
makeBar('barDiff', diffBarColors, diffBarTicks, diffBarLabels, 323, 639);
</script>
</body>
</html>
